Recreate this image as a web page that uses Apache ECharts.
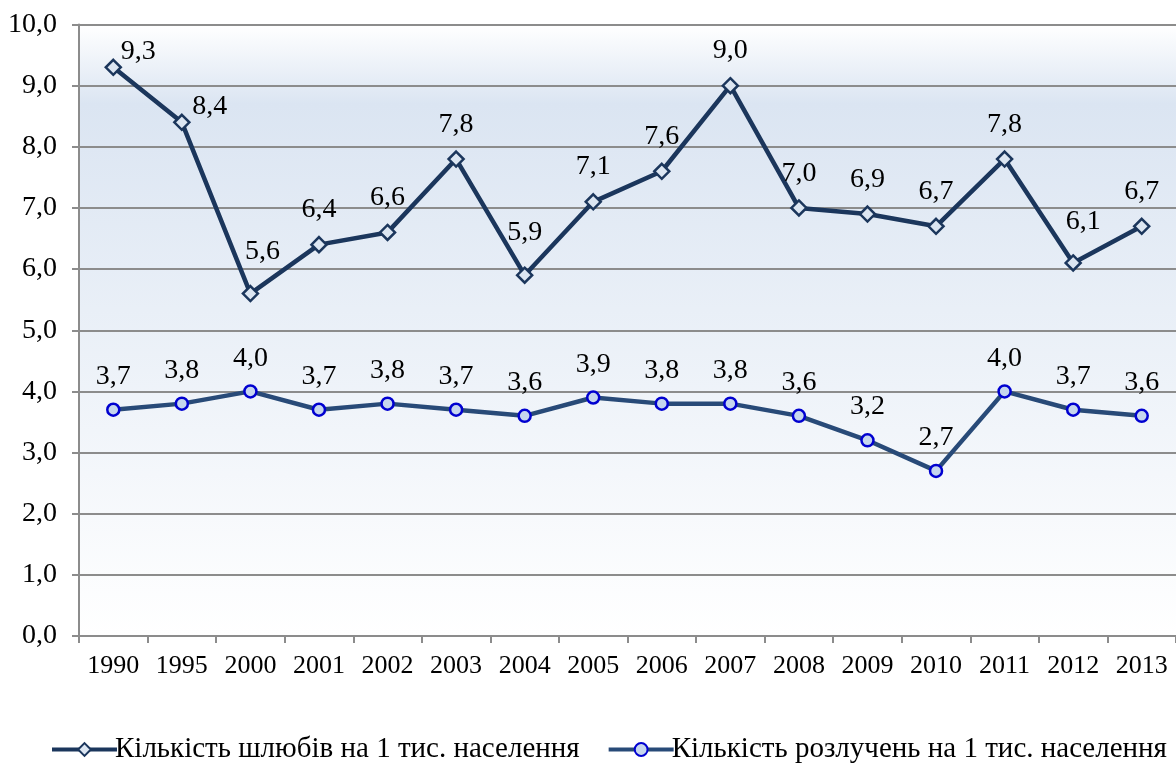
<!DOCTYPE html>
<html>
<head>
<meta charset="utf-8">
<script src="https://cdn.jsdelivr.net/npm/echarts@6/dist/echarts.min.js"></script>
<style>html,body{margin:0;padding:0;background:#fff}#c{width:1176px;height:765px}</style>
</head>
<body>
<div id="c"></div>
<script>
const years = ['1990','1995','2000','2001','2002','2003','2004','2005','2006','2007','2008','2009','2010','2011','2012','2013'];
const marriages = [9.3, 8.4, 5.6, 6.4, 6.6, 7.8, 5.9, 7.1, 7.6, 9.0, 7.0, 6.9, 6.7, 7.8, 6.1, 6.7];
const divorces = [3.7, 3.8, 4.0, 3.7, 3.8, 3.7, 3.6, 3.9, 3.8, 3.8, 3.6, 3.2, 2.7, 4.0, 3.7, 3.6];
const yTickLabels = ['0,0','1,0','2,0','3,0','4,0','5,0','6,0','7,0','8,0','9,0','10,0'];
const seriesNames = ['Кількість шлюбів на 1 тис. населення', 'Кількість розлучень на 1 тис. населення'];

// label placement tweaks (style only)
const marriageLabelOffsets = {0: [25, 19], 1: [28, 19], 2: [12, -7], 6: [0, -8], 14: [10, -7]};

const fmt = v => v.toFixed(1).replace('.', ',');
const FONT = 'Liberation Serif';

const marriageData = marriages.map((v, i) => marriageLabelOffsets[i]
  ? {value: v, label: {offset: marriageLabelOffsets[i]}}
  : v);

const chart = echarts.init(document.getElementById('c'), null, {renderer: 'canvas'});
chart.setOption({
  animation: false,
  backgroundColor: '#ffffff',
  textStyle: {fontFamily: FONT, color: '#000'},
  grid: {
    left: 79, top: 24.5, width: 1103, height: 611.5,
    show: true, borderWidth: 0,
    backgroundColor: new echarts.graphic.LinearGradient(0, 0, 0, 1, [
      {offset: 0, color: '#ffffff'},
      {offset: 0.13, color: '#dbe5f2'},
      {offset: 1, color: '#ffffff'}
    ])
  },
  legend: {
    top: 730, left: 45,
    itemWidth: 65, itemHeight: 16, itemGap: 27,
    lineStyle: {width: 4},
    textStyle: {fontFamily: FONT, fontSize: 29, color: '#000', padding: [0,0,0,-7]},
    data: seriesNames
  },
  xAxis: {
    type: 'category',
    data: years,
    boundaryGap: true,
    axisLine: {lineStyle: {color: '#8c8c8c', width: 2}},
    axisTick: {show: true, length: 7, lineStyle: {color: '#8c8c8c', width: 2}},
    axisLabel: {fontFamily: FONT, fontSize: 26, color: '#000', margin: 17, interval: 0}
  },
  yAxis: {
    type: 'value',
    min: 0, max: 10, interval: 1,
    axisLine: {show: true, lineStyle: {color: '#8c8c8c', width: 2}},
    axisTick: {show: true, length: 7, lineStyle: {color: '#8c8c8c', width: 2}},
    splitLine: {show: true, lineStyle: {color: '#8c8c8c', width: 2}},
    axisLabel: {fontFamily: FONT, fontSize: 28, color: '#000', margin: 22,
      formatter: v => yTickLabels[Math.round(v)]}
  },
  series: [
    {
      name: seriesNames[0],
      type: 'line',
      data: marriageData,
      symbol: 'diamond',
      symbolSize: 15,
      lineStyle: {color: '#1b365c', width: 4.5},
      itemStyle: {color: '#dce6f2', borderColor: '#1b365c', borderWidth: 2.5},
      label: {show: true, position: 'top', distance: 12, fontFamily: FONT, fontSize: 28, color: '#000',
        formatter: p => fmt(p.value)},
      z: 3
    },
    {
      name: seriesNames[1],
      type: 'line',
      data: divorces,
      symbol: 'circle',
      symbolSize: 12,
      lineStyle: {color: '#284a78', width: 4.5},
      itemStyle: {color: '#c6d6ee', borderColor: '#0000d0', borderWidth: 2.5},
      label: {show: true, position: 'top', distance: 12, fontFamily: FONT, fontSize: 28, color: '#000',
        formatter: p => fmt(p.value)},
      z: 2
    }
  ]
});
</script>
</body>
</html>
